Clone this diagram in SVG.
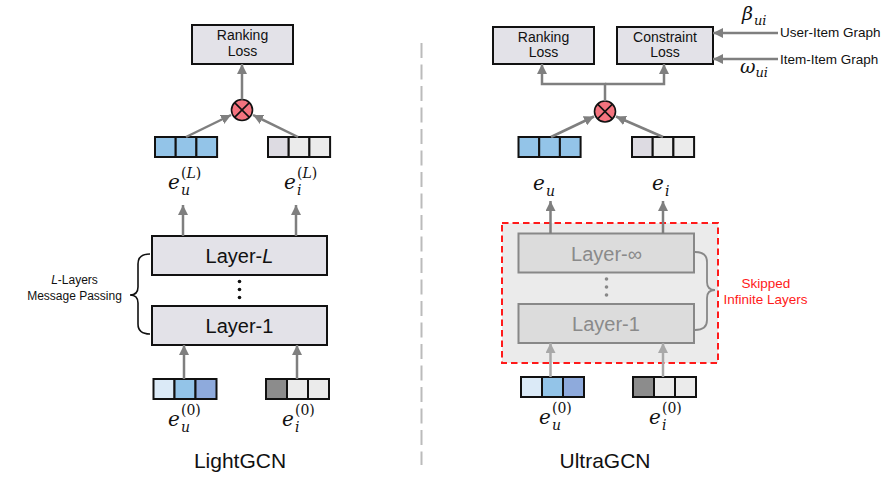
<svg xmlns="http://www.w3.org/2000/svg" width="895" height="480" viewBox="0 0 895 480">
<style>
.box{fill:#e3e2e8;stroke:#111;stroke-width:2}
.lbl{font-family:"Liberation Sans",Arial,sans-serif;fill:#111;text-anchor:middle}
.cell{stroke:#111;stroke-width:2}
.conn{fill:none;stroke:#7f7f7f;stroke-width:2.5}
.connl{fill:none;stroke:#a8a8a8;stroke-width:2.5}
.math{font-family:"DejaVu Serif","Liberation Serif",serif;font-style:italic;fill:#111}
.up{font-style:normal}
.glay{fill:#dcdcdc;stroke:#888;stroke-width:2}
.glbl{font-family:"Liberation Sans",Arial,sans-serif;fill:#8a8a8a;text-anchor:middle;font-size:20px}
.side{font-family:"Liberation Sans",Arial,sans-serif;font-size:13.5px}
</style>
<defs>
<marker id="ah" viewBox="0 0 10 10" refX="10" refY="5" markerWidth="10" markerHeight="10" markerUnits="userSpaceOnUse" orient="auto">
<path d="M0,0 L10,5 L0,10 z" fill="#7f7f7f"/>
</marker>
<marker id="ahl" viewBox="0 0 10 10" refX="10" refY="5" markerWidth="10" markerHeight="10" markerUnits="userSpaceOnUse" orient="auto">
<path d="M0,0 L10,5 L0,10 z" fill="#a8a8a8"/>
</marker>
</defs>

<!-- divider -->
<line x1="421.5" y1="43" x2="421.5" y2="465" stroke="#bbbbbb" stroke-width="2" stroke-dasharray="15 6.5"/>

<!-- ===== LightGCN ===== -->
<g id="lg-ranking">
<rect class="box" x="192" y="25" width="101" height="39"/>
<text class="lbl" x="242.5" y="40" font-size="14">Ranking</text>
<text class="lbl" x="242.5" y="56" font-size="14">Loss</text>
</g>
<g id="lg-mult">
<circle cx="242" cy="110" r="10.5" fill="#f4737e" stroke="#111" stroke-width="1.6"/>
<path d="M234.6,102.6 L249.4,117.4 M249.4,102.6 L234.6,117.4" stroke="#111" stroke-width="1.6"/>
</g>
<g id="lg-euL">
<rect class="cell" x="155" y="137" width="20.7" height="20" fill="#93c4e8"/>
<rect class="cell" x="175.7" y="137" width="20.7" height="20" fill="#93c4e8"/>
<rect class="cell" x="196.4" y="137" width="20.7" height="20" fill="#93c4e8"/>
<text class="math" x="168" y="189" font-size="20">e<tspan font-size="14" x="181" y="195">u</tspan><tspan font-size="14" x="181" y="178"><tspan class="up">(</tspan>L<tspan class="up">)</tspan></tspan></text>
</g>
<g id="lg-eiL">
<rect class="cell" x="268" y="137" width="20.7" height="20" fill="#dddbe2"/>
<rect class="cell" x="288.7" y="137" width="20.7" height="20" fill="#ebebeb"/>
<rect class="cell" x="309.4" y="137" width="20.7" height="20" fill="#ebebeb"/>
<text class="math" x="284" y="189" font-size="20">e<tspan font-size="14" x="297" y="195">i</tspan><tspan font-size="14" x="297" y="178"><tspan class="up">(</tspan>L<tspan class="up">)</tspan></tspan></text>
</g>
<g id="lg-layerL">
<rect class="box" x="152" y="236" width="175" height="39"/>
<text class="lbl" x="239.5" y="263" font-size="20">Layer-<tspan font-style="italic">L</tspan></text>
</g>
<g id="lg-dots" fill="#111">
<circle cx="239.5" cy="281.5" r="1.8"/>
<circle cx="239.5" cy="289.5" r="1.8"/>
<circle cx="239.5" cy="297.5" r="1.8"/>
</g>
<g id="lg-layer1">
<rect class="box" x="152" y="306" width="175" height="39"/>
<text class="lbl" x="239.5" y="333" font-size="20">Layer-1</text>
</g>
<g id="lg-brace">
<path d="M150,254 Q138,254 138,264 L138,287 Q138,295 130,295 Q138,295 138,303 L138,324 Q138,334 150,334" fill="none" stroke="#111" stroke-width="1.6"/>
<text class="lbl" x="74.5" y="284" font-size="12"><tspan font-style="italic">L</tspan>-Layers</text>
<text class="lbl" x="74.5" y="300" font-size="12">Message Passing</text>
</g>
<g id="lg-eu0">
<rect class="cell" x="153.5" y="379" width="21" height="20" fill="#dbeaf7"/>
<rect class="cell" x="174.5" y="379" width="21" height="20" fill="#93c4e8"/>
<rect class="cell" x="195.5" y="379" width="21" height="20" fill="#8eaadc"/>
<text class="math" x="168" y="426" font-size="20">e<tspan font-size="14" x="181" y="432">u</tspan><tspan class="up" font-size="14" x="181" y="415">(0)</tspan></text>
</g>
<g id="lg-ei0">
<rect class="cell" x="266" y="379" width="21" height="20" fill="#8c8c8c"/>
<rect class="cell" x="287" y="379" width="21" height="20" fill="#ebebeb"/>
<rect class="cell" x="308" y="379" width="21" height="20" fill="#ebebeb"/>
<text class="math" x="282" y="426" font-size="20">e<tspan font-size="14" x="295" y="432">i</tspan><tspan class="up" font-size="14" x="295" y="415">(0)</tspan></text>
</g>
<text class="lbl" x="240" y="468" font-size="21">LightGCN</text>

<!-- ===== UltraGCN ===== -->
<g id="ug-skip">
<rect x="502" y="223" width="216" height="140" fill="#ebebeb" stroke="#ff1a1a" stroke-width="2" stroke-dasharray="6.5 4"/>
</g>
<g id="ug-ranking">
<rect class="box" x="493" y="27" width="101" height="37"/>
<text class="lbl" x="543.5" y="42" font-size="14">Ranking</text>
<text class="lbl" x="543.5" y="57" font-size="14">Loss</text>
</g>
<g id="ug-constraint">
<rect class="box" x="617" y="27" width="96" height="37"/>
<text class="lbl" x="665" y="42" font-size="14">Constraint</text>
<text class="lbl" x="665" y="57" font-size="14">Loss</text>
</g>
<g id="ug-mult">
<circle cx="605" cy="111.5" r="10.5" fill="#f4737e" stroke="#111" stroke-width="1.6"/>
<path d="M597.6,104.1 L612.4,118.9 M612.4,104.1 L597.6,118.9" stroke="#111" stroke-width="1.6"/>
</g>
<g id="ug-eu">
<rect class="cell" x="518.5" y="137" width="20.7" height="20" fill="#93c4e8"/>
<rect class="cell" x="539.2" y="137" width="20.7" height="20" fill="#93c4e8"/>
<rect class="cell" x="559.9" y="137" width="20.7" height="20" fill="#93c4e8"/>
<text class="math" x="533" y="190" font-size="20">e<tspan font-size="14" x="546" y="196">u</tspan></text>
</g>
<g id="ug-ei">
<rect class="cell" x="632" y="137" width="20.7" height="20" fill="#dddbe2"/>
<rect class="cell" x="652.7" y="137" width="20.7" height="20" fill="#ebebeb"/>
<rect class="cell" x="673.4" y="137" width="20.7" height="20" fill="#ebebeb"/>
<text class="math" x="652" y="190" font-size="20">e<tspan font-size="14" x="665" y="196">i</tspan></text>
</g>
<g id="ug-layerinf">
<rect class="glay" x="518.5" y="233.5" width="175.5" height="39"/>
<text class="glbl" x="606.5" y="261">Layer-∞</text>
</g>
<g id="ug-dots" fill="#888">
<circle cx="606.5" cy="279" r="1.8"/>
<circle cx="606.5" cy="287" r="1.8"/>
<circle cx="606.5" cy="295" r="1.8"/>
</g>
<g id="ug-layer1">
<rect class="glay" x="518.5" y="304" width="175.5" height="39"/>
<text class="glbl" x="606" y="331">Layer-1</text>
</g>
<g id="ug-brace">
<path d="M695,252 Q707,252 707,262 L707,282 Q707,290 715,290 Q707,290 707,298 L707,320 Q707,330 695,330" fill="none" stroke="#888" stroke-width="1.8"/>
<text class="side" x="766" y="288" fill="#ff1a1a" text-anchor="middle">Skipped</text>
<text class="side" x="765.5" y="304" fill="#ff1a1a" text-anchor="middle">Infinite Layers</text>
</g>
<g id="ug-eu0">
<rect class="cell" x="521" y="377" width="21" height="20" fill="#dbeaf7"/>
<rect class="cell" x="542" y="377" width="21" height="20" fill="#93c4e8"/>
<rect class="cell" x="563" y="377" width="21" height="20" fill="#8eaadc"/>
<text class="math" x="539" y="424" font-size="20">e<tspan font-size="14" x="552" y="430">u</tspan><tspan class="up" font-size="14" x="552" y="413">(0)</tspan></text>
</g>
<g id="ug-ei0">
<rect class="cell" x="633" y="377" width="21" height="20" fill="#8c8c8c"/>
<rect class="cell" x="654" y="377" width="21" height="20" fill="#ebebeb"/>
<rect class="cell" x="675" y="377" width="21" height="20" fill="#ebebeb"/>
<text class="math" x="649" y="424" font-size="20">e<tspan font-size="14" x="662" y="430">i</tspan><tspan class="up" font-size="14" x="662" y="413">(0)</tspan></text>
</g>
<g id="ug-graphs">
<text class="math" x="742" y="20" font-size="19">β<tspan font-size="13" x="754" y="25">ui</tspan></text>
<text class="side" x="780" y="37" fill="#111">User-Item Graph</text>
<text class="side" x="780" y="63.5" fill="#111">Item-Item Graph</text>
<text class="math" x="740" y="73" font-size="19">ω<tspan font-size="13" x="755.5" y="77">ui</tspan></text>
</g>
<text class="lbl" x="605" y="468" font-size="21">UltraGCN</text>

<!-- connectors -->
<g id="connectors">
<path class="conn" d="M242,99.5 V64" marker-end="url(#ah)"/>
<path class="conn" d="M186,137 L231,115" marker-end="url(#ah)"/>
<path class="conn" d="M298,137 L253,115" marker-end="url(#ah)"/>
<path class="conn" d="M183,236 V205" marker-end="url(#ah)"/>
<path class="conn" d="M296,236 V205" marker-end="url(#ah)"/>
<path class="conn" d="M184,379 V345" marker-end="url(#ah)"/>
<path class="conn" d="M297,379 V345" marker-end="url(#ah)"/>

<path class="conn" d="M605,101 V84 H542 V64" marker-end="url(#ah)"/>
<path class="conn" d="M605,84 H664 V64" marker-end="url(#ah)"/>
<path class="conn" d="M551,137 L594,116.5" marker-end="url(#ah)"/>
<path class="conn" d="M663,137 L616,116.5" marker-end="url(#ah)"/>
<path class="conn" d="M550.5,233.5 V201" marker-end="url(#ah)"/>
<path class="conn" d="M663,233.5 V201" marker-end="url(#ah)"/>
<path class="connl" d="M550.5,377 V343" marker-end="url(#ahl)"/>
<path class="connl" d="M663,377 V343" marker-end="url(#ahl)"/>
<path class="conn" d="M778,33 H713" marker-end="url(#ah)"/>
<path class="conn" d="M778,59 H713" marker-end="url(#ah)"/>
</g>
</svg>
